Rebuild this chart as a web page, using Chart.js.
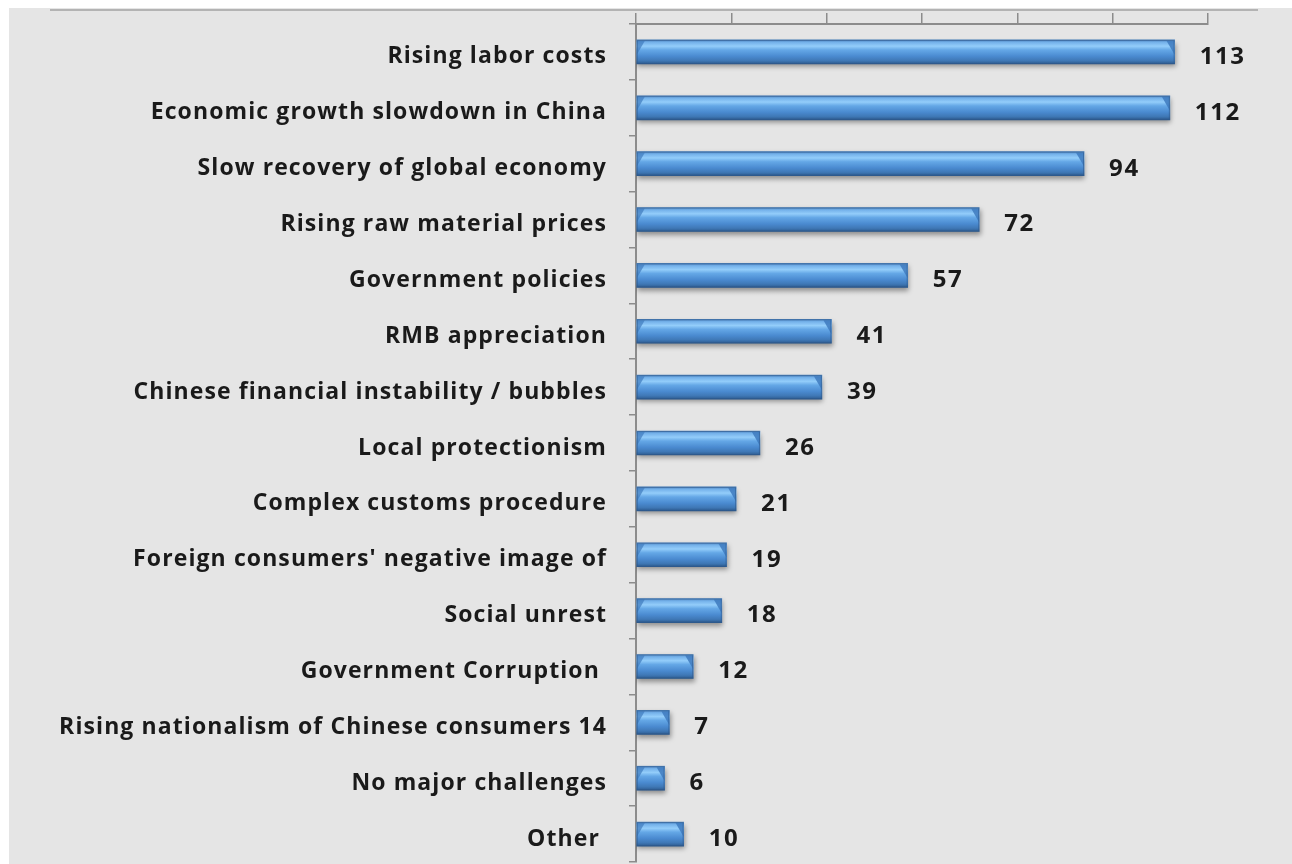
<!DOCTYPE html>
<html>
<head>
<meta charset="utf-8">
<title>Challenges</title>
<script src="https://cdn.jsdelivr.net/npm/chart.js@4/dist/chart.umd.min.js"></script>
<style>
  html, body { margin: 0; padding: 0; background: #ffffff; }
  #wrap { width: 1292px; height: 864px; position: relative; }
</style>
</head>
<body>
<div id="wrap"><canvas id="c" width="1292" height="864"></canvas></div>
<script>
// Survey answers, listed top to bottom
const categories = [
  'Rising labor costs',
  'Economic growth slowdown in China',
  'Slow recovery of global economy',
  'Rising raw material prices',
  'Government policies',
  'RMB appreciation',
  'Chinese financial instability / bubbles',
  'Local protectionism',
  'Complex customs procedure',
  "Foreign consumers' negative image of",
  'Social unrest',
  'Government Corruption ',
  'Rising nationalism of Chinese consumers 14',
  'No major challenges',
  'Other '
];
const responses = [113, 112, 94, 72, 57, 41, 39, 26, 21, 19, 18, 12, 7, 6, 10];
const axisMin = 0;
const axisMax = 120;
const axisStep = 20;

const FONT = '"Open Sans", Lato, sans-serif';
const BAR_H = 24;

// Page backdrop: grey panel with a thin rule along its top edge
const backdrop = {
  id: 'backdrop',
  beforeDraw(chart) {
    const ctx = chart.ctx;
    ctx.save();
    ctx.fillStyle = '#ffffff';
    ctx.fillRect(0, 0, chart.width, chart.height);
    ctx.fillStyle = '#e5e5e5';
    ctx.fillRect(9, 8, chart.width - 9, chart.height - 8);
    ctx.strokeStyle = '#b3b3b3';
    ctx.lineWidth = 2;
    ctx.beginPath();
    ctx.moveTo(50, 10);
    ctx.lineTo(1258, 10);
    ctx.stroke();
    ctx.restore();
    // slightly open tracking for all chart text
    ctx.letterSpacing = '1.1px';
  }
};

// Vertical glossy shading for one bar, built from its category position
function barGradient(context) {
  const chart = context.chart;
  const yScale = chart.scales.y;
  if (!yScale || context.dataIndex === undefined) return '#4a8ad0';
  const cy = yScale.getPixelForValue(context.dataIndex);
  if (!Number.isFinite(cy)) return '#4a8ad0';
  const top = cy - BAR_H / 2;
  const bot = cy + BAR_H / 2;
  const g = chart.ctx.createLinearGradient(0, top, 0, bot);
  g.addColorStop(0.00, '#4d84bf');
  g.addColorStop(0.10, '#74b1ea');
  g.addColorStop(0.26, '#93cdfa');
  g.addColorStop(0.42, '#64a7e6');
  g.addColorStop(0.68, '#4a8ad0');
  g.addColorStop(0.86, '#3f78b6');
  g.addColorStop(1.00, '#2d5b8f');
  return g;
}

// Drop shadow under the bars and bevelled end caps
const barFinish = {
  id: 'barFinish',
  beforeDatasetsDraw(chart) {
    const ctx = chart.ctx;
    ctx.save();
    ctx.shadowColor = 'rgba(0,0,0,0.38)';
    ctx.shadowBlur = 5;
    ctx.shadowOffsetX = 1;
    ctx.shadowOffsetY = 3;
  },
  afterDatasetsDraw(chart) {
    const ctx = chart.ctx;
    ctx.restore();
    ctx.save();
    chart.getDatasetMeta(0).data.forEach(el => {
      const h = el.height;
      const top = el.y - h / 2;
      const bot = el.y + h / 2;
      const x0 = el.base, x1 = el.x;
      const cap = Math.min(8, (x1 - x0) / 3);
      // right end: the highlight band is cut off diagonally
      ctx.fillStyle = 'rgba(62,122,190,0.85)';
      ctx.beginPath();
      ctx.moveTo(x1 - cap, top + 1);
      ctx.lineTo(x1, top + 1);
      ctx.lineTo(x1, top + h * 0.62);
      ctx.closePath();
      ctx.fill();
      // left end
      ctx.fillStyle = 'rgba(62,122,190,0.7)';
      ctx.beginPath();
      ctx.moveTo(x0, top + 1);
      ctx.lineTo(x0 + cap, top + 1);
      ctx.lineTo(x0, top + h * 0.62);
      ctx.closePath();
      ctx.fill();
      ctx.strokeStyle = 'rgba(45,85,135,0.55)';
      ctx.lineWidth = 1;
      ctx.strokeRect(x0 + 0.5, top + 0.5, x1 - x0 - 1, bot - top - 1);
    });
    ctx.restore();
  }
};

// Value written to the right of each bar
const valueLabels = {
  id: 'valueLabels',
  afterDatasetsDraw(chart) {
    const ctx = chart.ctx;
    const ds = chart.data.datasets[0];
    ctx.save();
    ctx.letterSpacing = '1.6px';
    ctx.fillStyle = '#1a1a1a';
    ctx.font = 'bold 24px ' + FONT;
    ctx.textAlign = 'left';
    ctx.textBaseline = 'middle';
    chart.getDatasetMeta(0).data.forEach((el, i) => {
      ctx.fillText(String(ds.data[i]), el.x + 25, el.y + 5);
    });
    ctx.restore();
  }
};

new Chart(document.getElementById('c'), {
  type: 'bar',
  data: {
    labels: categories,
    datasets: [{
      data: responses,
      backgroundColor: barGradient,
      borderWidth: 0,
      barThickness: BAR_H
    }]
  },
  options: {
    indexAxis: 'y',
    responsive: false,
    animation: false,
    devicePixelRatio: 1,
    layout: { padding: { left: 0, top: 0, right: 84, bottom: 2 } },
    plugins: {
      legend: { display: false },
      tooltip: { enabled: false }
    },
    scales: {
      x: {
        position: 'top',
        min: axisMin,
        max: axisMax,
        ticks: { stepSize: axisStep, display: false },
        grid: { drawOnChartArea: false, drawTicks: true, tickLength: 11, color: '#8c8c8c', lineWidth: 1.5 },
        border: { color: '#8c8c8c', width: 2 },
        afterFit(scale) {
          scale.height = 24;
          scale.paddingLeft = 0;
          scale.paddingRight = 0;
        }
      },
      y: {
        ticks: {
          color: '#1a1a1a',
          font: { family: FONT, size: 23, weight: 'bold' },
          padding: 22,
          labelOffset: 5,
          autoSkip: false
        },
        grid: { drawOnChartArea: false, drawTicks: true, tickLength: 7, color: '#8c8c8c', lineWidth: 1.5, offset: true },
        border: { color: '#8c8c8c', width: 2 },
        afterFit(scale) {
          scale.width = 636;
          scale.paddingTop = 0;
          scale.paddingBottom = 0;
        }
      }
    }
  },
  plugins: [backdrop, barFinish, valueLabels]
});
</script>
</body>
</html>
